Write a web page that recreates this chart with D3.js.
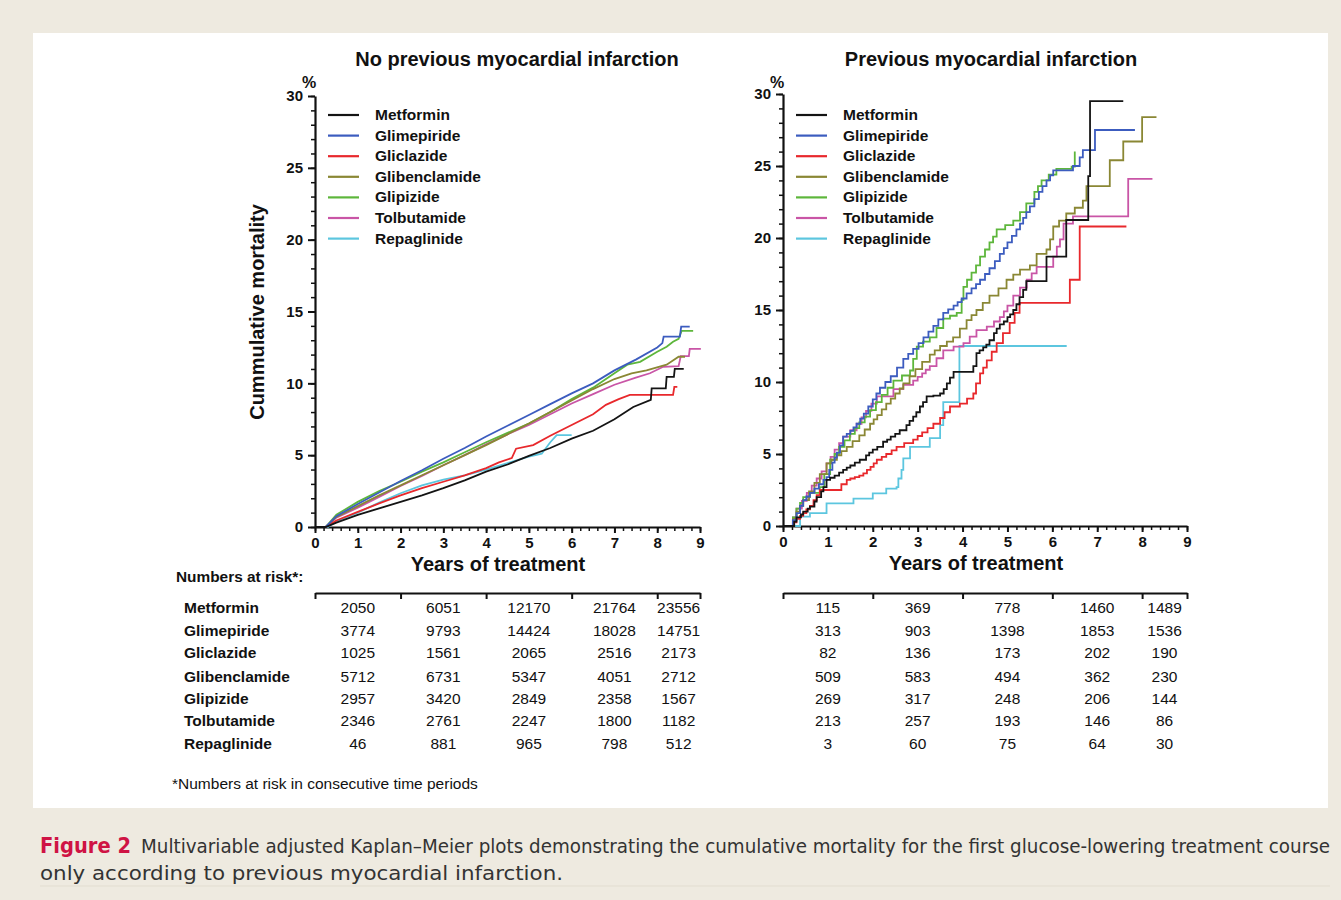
<!DOCTYPE html>
<html>
<head>
<meta charset="utf-8">
<script src="https://cdn.jsdelivr.net/npm/d3@7"></script>
<style>
  body { margin: 0; background: #eeeae0; }
  svg { display: block; }
  .lbl { font-family: "Liberation Sans", Arial, sans-serif; fill: #111; }
  .axis path, .axis line { stroke: #111; }
  .axis text { font-family: "Liberation Sans", Arial, sans-serif; font-weight: bold; font-size: 15px; fill: #111; }
</style>
</head>
<body>
<div class="svg-container"></div>
<script>
// ---- data ----
var drugs = ["Metformin", "Glimepiride", "Gliclazide", "Glibenclamide", "Glipizide", "Tolbutamide", "Repaglinide"];
var colors = ["#141414", "#3c5cbf", "#e8282c", "#8a8734", "#5db63b", "#c955a6", "#5cc6df"];

// No previous MI: [years, cumulative mortality %]
var noMI = [
  [[0,0],[0.25,0],[0.5,0.3],[1,0.85],[1.5,1.3],[2,1.75],[2.5,2.2],[3,2.7],[3.5,3.25],[4,3.85],[4.5,4.35],[5,4.95],[5.5,5.5],[6,6.15],[6.5,6.7],[7,7.5],[7.44,8.35],[7.85,8.85],[7.87,9.65],[8.2,9.65],[8.22,10.45],[8.39,10.45],[8.41,11.0],[8.62,11.0]],
  [[0,0],[0.25,0],[0.5,0.75],[1,1.6],[1.5,2.4],[2,3.2],[2.5,3.95],[3,4.75],[3.5,5.5],[4,6.3],[4.5,7.05],[5,7.8],[5.5,8.55],[6,9.3],[6.5,10.0],[7,10.9],[7.5,11.65],[8,12.5],[8.12,12.8],[8.15,13.25],[8.53,13.25],[8.56,13.95],[8.76,13.95]],
  [[0,0],[0.25,0],[0.5,0.45],[1,1.05],[1.5,1.65],[2,2.2],[2.5,2.7],[3,3.15],[3.5,3.6],[4,4.1],[4.3,4.5],[4.6,4.8],[4.7,5.45],[5.1,5.7],[5.5,6.35],[6,7.1],[6.5,7.85],[6.8,8.5],[7.1,8.9],[7.36,9.2],[8.37,9.2],[8.4,9.75],[8.47,9.75]],
  [[0,0],[0.25,0],[0.5,0.7],[1,1.45],[1.5,2.2],[2,2.9],[2.5,3.6],[3,4.3],[3.5,5.0],[4,5.7],[4.5,6.45],[5,7.2],[5.5,8.0],[6,8.8],[6.5,9.6],[7,10.3],[7.4,10.7],[7.75,10.9],[8.22,11.3],[8.5,11.85],[8.65,11.85]],
  [[0,0],[0.25,0],[0.5,0.85],[1,1.75],[1.5,2.5],[2,3.15],[2.5,3.85],[3,4.5],[3.5,5.2],[4,5.9],[4.5,6.55],[5,7.2],[5.5,8.0],[6,8.9],[6.5,9.7],[7,10.7],[7.3,11.3],[7.6,11.5],[8,12.2],[8.22,12.55],[8.37,12.9],[8.5,13.1],[8.57,13.65],[8.84,13.65]],
  [[0,0],[0.25,0],[0.5,0.65],[1,1.35],[1.5,2.1],[2,2.85],[2.5,3.55],[3,4.3],[3.5,5.0],[4,5.75],[4.5,6.45],[5,7.1],[5.5,7.85],[6,8.6],[6.5,9.25],[7,9.9],[7.5,10.4],[7.83,10.7],[8.14,11.15],[8.5,11.2],[8.55,11.9],[8.74,11.9],[8.76,12.4],[9.02,12.4]],
  [[0,0],[0.3,0],[0.5,0.4],[1,1.0],[1.5,1.7],[2,2.35],[2.5,2.9],[3,3.3],[3.5,3.6],[4,4.0],[4.5,4.45],[5,4.9],[5.3,5.1],[5.5,5.9],[5.65,6.4],[6.0,6.4]]
];

// Previous MI: step events [years, cumulative mortality %]
var prevMI = [
  [[0,0],[0.16,0],[0.25,0.3],[0.3,0.6],[0.4,0.8],[0.45,1.0],[0.55,1.2],[0.6,1.35],[0.7,1.7],[0.75,2.0],[0.85,2.4],[0.9,2.7],[0.97,3.2],[1.05,3.35],[1.15,3.5],[1.25,3.7],[1.34,3.9],[1.42,4.05],[1.5,4.2],[1.6,4.4],[1.71,4.6],[1.85,4.9],[1.92,5.1],[2.0,5.3],[2.1,5.5],[2.23,5.85],[2.32,6.0],[2.4,6.2],[2.5,6.4],[2.6,6.65],[2.75,7.0],[2.82,7.3],[2.9,7.6],[2.97,7.9],[3.05,8.3],[3.12,8.6],[3.2,9.0],[3.35,9.05],[3.5,9.2],[3.58,9.5],[3.65,9.9],[3.72,10.3],[3.8,10.7],[4.24,11.1],[4.31,12.0],[4.38,12.2],[4.46,12.4],[4.53,12.6],[4.6,12.9],[4.7,13.4],[4.76,13.7],[4.83,14.0],[4.92,14.2],[5.0,14.5],[5.06,14.7],[5.13,15.0],[5.2,15.4],[5.27,15.9],[5.35,16.4],[5.42,17.0],[5.87,18.7],[6.31,21.25],[6.8,24.3],[6.84,29.5],[7.58,29.5]],
  [[0,0],[0.15,0],[0.22,0.4],[0.3,0.9],[0.38,1.4],[0.45,1.8],[0.52,2.05],[0.6,2.3],[0.7,2.6],[0.8,2.9],[0.9,3.2],[0.97,3.4],[1.03,3.9],[1.1,4.4],[1.15,4.75],[1.2,5.1],[1.27,5.6],[1.34,6.2],[1.42,6.4],[1.5,6.6],[1.57,6.85],[1.64,7.1],[1.72,7.45],[1.8,7.8],[1.9,8.3],[2.0,8.8],[2.08,9.2],[2.16,9.6],[2.28,10.0],[2.4,10.4],[2.54,11.0],[2.68,11.6],[2.79,11.95],[2.9,12.3],[3.02,12.7],[3.13,13.1],[3.24,13.5],[3.35,13.9],[3.46,14.35],[3.57,14.8],[3.68,15.05],[3.8,15.3],[3.89,15.55],[3.98,15.8],[4.09,16.15],[4.2,16.5],[4.3,16.8],[4.39,17.1],[4.5,17.5],[4.6,17.9],[4.72,18.4],[4.83,18.9],[4.92,19.3],[5.0,19.7],[5.1,20.15],[5.2,20.6],[5.28,21.0],[5.35,21.4],[5.42,21.8],[5.5,22.2],[5.6,22.7],[5.7,23.2],[5.78,23.6],[5.87,24.0],[5.95,24.35],[6.02,24.7],[6.46,25.0],[6.61,25.6],[6.68,26.1],[6.95,27.5],[7.84,27.5]],
  [[0,0],[0.15,0],[0.22,0.25],[0.3,0.5],[0.38,0.7],[0.45,0.9],[0.52,1.15],[0.6,1.4],[0.68,1.8],[0.75,2.15],[0.82,2.5],[1.2,2.5],[1.3,2.9],[1.42,3.2],[1.5,3.3],[1.6,3.4],[1.7,3.5],[1.79,3.65],[1.87,3.9],[1.95,4.1],[2.02,4.35],[2.09,4.6],[2.2,4.8],[2.3,5.0],[2.42,5.25],[2.53,5.5],[2.7,5.75],[2.9,6.0],[3.0,6.25],[3.1,6.5],[3.22,6.8],[3.35,7.1],[3.5,7.5],[3.6,7.9],[3.72,8.3],[3.94,8.5],[4.1,8.85],[4.24,9.2],[4.3,9.9],[4.39,10.6],[4.46,11.0],[4.54,11.5],[4.65,12.1],[4.76,12.7],[4.9,13.4],[5.05,14.1],[5.16,14.8],[5.27,15.5],[6.39,17.1],[6.61,20.8],[7.65,20.8]],
  [[0,0],[0.15,0],[0.22,0.5],[0.3,1.0],[0.38,1.4],[0.45,1.8],[0.58,2.4],[0.7,3.0],[0.82,3.6],[0.97,4.35],[1.08,4.6],[1.2,4.9],[1.3,5.2],[1.42,5.5],[1.55,5.9],[1.7,6.3],[1.82,6.7],[1.94,7.1],[2.02,7.4],[2.1,7.7],[2.2,8.1],[2.3,8.5],[2.4,8.85],[2.5,9.2],[2.6,9.55],[2.68,9.9],[2.82,10.4],[2.95,10.9],[3.1,11.4],[3.27,11.9],[3.38,12.2],[3.5,12.5],[3.65,12.8],[3.79,13.1],[3.94,13.7],[4.09,14.3],[4.2,14.65],[4.31,15.0],[4.45,15.5],[4.6,16.0],[4.8,16.5],[4.98,17.1],[5.13,17.45],[5.28,17.8],[5.5,18.1],[5.65,18.9],[5.87,19.2],[5.95,19.9],[6.02,20.8],[6.15,21.2],[6.31,21.7],[6.5,22.1],[6.68,22.6],[6.76,23.6],[7.28,25.4],[7.58,26.7],[8.0,28.4],[8.32,28.4]],
  [[0,0],[0.15,0],[0.22,0.6],[0.3,1.2],[0.38,1.6],[0.45,2.0],[0.6,2.3],[0.82,2.7],[0.92,3.6],[1.05,4.6],[1.15,5.0],[1.25,5.5],[1.37,5.95],[1.49,6.4],[1.6,6.8],[1.7,7.2],[1.82,7.6],[1.94,8.05],[2.07,8.6],[2.2,9.1],[2.33,9.6],[2.46,10.1],[2.65,10.45],[2.83,10.8],[2.9,11.6],[2.98,12.45],[3.12,12.8],[3.27,13.1],[3.42,13.75],[3.57,14.4],[3.72,14.6],[3.87,14.8],[3.98,15.7],[4.02,16.6],[4.1,17.1],[4.2,17.6],[4.3,18.1],[4.39,18.7],[4.5,19.2],[4.6,19.7],[4.68,20.1],[4.76,20.6],[4.95,20.9],[5.13,21.2],[5.28,21.8],[5.42,22.4],[5.6,23.2],[5.68,23.6],[5.76,24.0],[5.92,24.4],[6.09,24.8],[6.43,24.95],[6.5,26.0]],
  [[0,0],[0.15,0],[0.22,0.6],[0.3,1.2],[0.42,1.75],[0.53,2.3],[0.64,2.8],[0.75,3.3],[0.86,3.8],[0.97,4.35],[1.06,4.8],[1.15,5.3],[1.25,5.75],[1.34,6.2],[1.5,6.65],[1.64,7.1],[1.75,7.55],[1.85,8.0],[1.97,8.5],[2.09,9.0],[2.46,9.5],[2.68,9.8],[2.9,10.1],[3.0,10.35],[3.1,10.6],[3.18,10.85],[3.27,11.1],[3.42,11.65],[3.57,12.2],[3.8,12.45],[4.02,12.7],[4.16,13.15],[4.31,13.6],[4.54,13.85],[4.7,14.2],[4.83,14.5],[4.92,14.9],[5.0,15.3],[5.13,16.0],[5.28,16.55],[5.43,17.1],[5.54,17.55],[5.65,18.0],[6.02,18.7],[6.1,19.4],[6.17,19.9],[6.25,21.0],[6.46,21.5],[7.69,24.1],[8.23,24.1]],
  [[0,0],[0.12,0],[0.38,0.65],[0.6,0.9],[0.97,1.57],[1.57,1.9],[2.0,2.27],[2.3,2.6],[2.53,2.7],[2.57,3.3],[2.64,3.9],[2.68,4.7],[2.83,5.5],[3.27,6.1],[3.5,7.0],[3.57,8.6],[3.93,12.5],[6.32,12.5]]
];

// numbers at risk, centred in the consecutive time periods
var riskCols = [1, 3, 5, 7, 8.5];
var riskBrackets = [0, 2, 4, 6, 8, 9];
var riskNoMI = [
  [2050, 6051, 12170, 21764, 23556],
  [3774, 9793, 14424, 18028, 14751],
  [1025, 1561, 2065, 2516, 2173],
  [5712, 6731, 5347, 4051, 2712],
  [2957, 3420, 2849, 2358, 1567],
  [2346, 2761, 2247, 1800, 1182],
  [46, 881, 965, 798, 512]
];
var riskMI = [
  [115, 369, 778, 1460, 1489],
  [313, 903, 1398, 1853, 1536],
  [82, 136, 173, 202, 190],
  [509, 583, 494, 362, 230],
  [269, 317, 248, 206, 144],
  [213, 257, 193, 146, 86],
  [3, 60, 75, 64, 30]
];
var yMajor = [0, 5, 10, 15, 20, 25, 30];
var xMajor = [0, 1, 2, 3, 4, 5, 6, 7, 8, 9];

var W = 1341, H = 900;
var svg = d3.select(".svg-container").append("svg")
    .attr("width", W).attr("height", H);

// white panel
svg.append("rect").attr("x", 33).attr("y", 33).attr("width", 1295).attr("height", 775).attr("fill", "#fff");

var rowY = [608, 631, 653, 677, 699, 721, 744];

function panel(opt) {
    var x = d3.scaleLinear().domain([0, 9]).range(opt.xr);
    var y = d3.scaleLinear().domain([0, 30]).range(opt.yr);
    var g = svg.append("g");

    // minor ticks
    g.append("g").attr("class", "axis")
        .attr("transform", "translate(" + x(0) + ",0)")
        .call(d3.axisLeft(y).tickValues(d3.range(0, 31)).tickSize(4).tickSizeOuter(0).tickFormat(""))
        .call(function(s) { s.select(".domain").remove(); s.selectAll("line").attr("stroke-width", 1.5); });
    g.append("g").attr("class", "axis")
        .attr("transform", "translate(0," + y(0) + ")")
        .call(d3.axisBottom(x).tickValues(d3.range(0, 46).map(function(i) { return i / 5; })).tickSize(4).tickSizeOuter(0).tickFormat(""))
        .call(function(s) { s.select(".domain").remove(); s.selectAll("line").attr("stroke-width", 1.5); });

    // major axes
    g.append("g").attr("class", "axis")
        .attr("transform", "translate(" + x(0) + ",0)")
        .call(d3.axisLeft(y).tickValues(yMajor).tickSize(7).tickSizeOuter(0).tickPadding(5))
        .call(function(s) { s.select(".domain").attr("stroke-width", 2.2); s.selectAll("line").attr("stroke-width", 2); });
    g.append("g").attr("class", "axis")
        .attr("transform", "translate(0," + y(0) + ")")
        .call(d3.axisBottom(x).tickValues(xMajor).tickSize(6).tickSizeOuter(0).tickPadding(4))
        .call(function(s) { s.select(".domain").attr("stroke-width", 2.2); s.selectAll("line").attr("stroke-width", 2); });

    // titles
    g.append("text").attr("class", "lbl").attr("x", opt.titleX).attr("y", 66)
        .attr("text-anchor", "middle").attr("font-weight", "bold").attr("font-size", 20)
        .text(opt.title);
    g.append("text").attr("class", "lbl").attr("x", x(0) - 6).attr("y", 88)
        .attr("text-anchor", "middle").attr("font-weight", "bold").attr("font-size", 16)
        .text("%");
    g.append("text").attr("class", "lbl").attr("x", opt.xTitleX).attr("y", y(0) + 44)
        .attr("text-anchor", "middle").attr("font-weight", "bold").attr("font-size", 20)
        .text("Years of treatment");

    // curves
    var line = d3.line()
        .x(function(d) { return x(d[0]); })
        .y(function(d) { return y(d[1]); })
        .curve(opt.curve);
    for (var i = drugs.length - 1; i >= 0; i--) {
        g.append("path")
            .attr("d", line(opt.data[i]))
            .attr("fill", "none")
            .attr("stroke", colors[i])
            .attr("stroke-width", 1.8)
            .attr("stroke-linejoin", "miter");
    }

    // legend
    var lx = x(0) + opt.legDx;
    drugs.forEach(function(name, i) {
        var ly = 115 + i * 20.6;
        g.append("line").attr("x1", lx).attr("x2", lx + 31).attr("y1", ly).attr("y2", ly)
            .attr("stroke", colors[i]).attr("stroke-width", 2.2);
        g.append("text").attr("class", "lbl").attr("x", lx + 47).attr("y", ly + 5)
            .attr("font-weight", "bold").attr("font-size", 15.5).text(name);
    });

    // numbers at risk bracket
    g.append("g").attr("class", "axis")
        .attr("transform", "translate(0,593)")
        .call(d3.axisBottom(x).tickValues(riskBrackets).tickSize(6).tickSizeOuter(0).tickFormat(""))
        .call(function(s) { s.select(".domain").attr("stroke-width", 2); s.selectAll("line").attr("stroke-width", 2); });

    opt.risk.forEach(function(row, r) {
        row.forEach(function(v, c) {
            g.append("text").attr("class", "lbl").attr("x", x(riskCols[c])).attr("y", rowY[r] + 5)
                .attr("text-anchor", "middle").attr("font-size", 15.5).attr("fill", "#222").text(v);
        });
    });
}

panel({ xr: [315, 700], yr: [527, 96], data: noMI, curve: d3.curveLinear, risk: riskNoMI,
        title: "No previous myocardial infarction", titleX: 517, xTitleX: 498, legDx: 13 });
panel({ xr: [783, 1187], yr: [526, 94], data: prevMI, curve: d3.curveStepAfter, risk: riskMI,
        title: "Previous myocardial infarction", titleX: 991, xTitleX: 976, legDx: 13 });

// y label
svg.append("text").attr("class", "lbl")
    .attr("transform", "translate(264,312) rotate(-90)")
    .attr("text-anchor", "middle").attr("font-weight", "bold").attr("font-size", 20)
    .text("Cummulative mortality");

// table labels
svg.append("text").attr("class", "lbl").attr("x", 176).attr("y", 582)
    .attr("font-weight", "bold").attr("font-size", 15.4).text("Numbers at risk*:");
drugs.forEach(function(name, i) {
    svg.append("text").attr("class", "lbl").attr("x", 184).attr("y", rowY[i] + 5)
        .attr("font-weight", "bold").attr("font-size", 15.5).text(name);
});
svg.append("text").attr("class", "lbl").attr("x", 172).attr("y", 789)
    .attr("font-size", 15.5).attr("fill", "#222").text("*Numbers at risk in consecutive time periods");

// caption
var capFont = "'Liberation Sans Narrow', 'DejaVu Sans Condensed', sans-serif";
svg.append("text").attr("x", 40).attr("y", 853)
    .attr("font-family", capFont).attr("font-weight", "bold").attr("font-size", 21)
    .attr("fill", "#cf1344").attr("textLength", 91).attr("lengthAdjust", "spacingAndGlyphs")
    .text("Figure 2");
svg.append("text").attr("x", 141).attr("y", 853)
    .attr("font-family", capFont).attr("font-size", 19.5).attr("fill", "#333")
    .attr("textLength", 1189).attr("lengthAdjust", "spacingAndGlyphs")
    .text("Multivariable adjusted Kaplan\u2013Meier plots demonstrating the cumulative mortality for the first glucose-lowering treatment course");
svg.append("text").attr("x", 40).attr("y", 880)
    .attr("font-family", capFont).attr("font-size", 19.5).attr("fill", "#333")
    .attr("textLength", 523).attr("lengthAdjust", "spacingAndGlyphs")
    .text("only according to previous myocardial infarction.");
svg.append("line").attr("x1", 40).attr("x2", 1330).attr("y1", 886).attr("y2", 886)
    .attr("stroke", "#e2ddd0").attr("stroke-width", 1);
</script>
</body>
</html>
